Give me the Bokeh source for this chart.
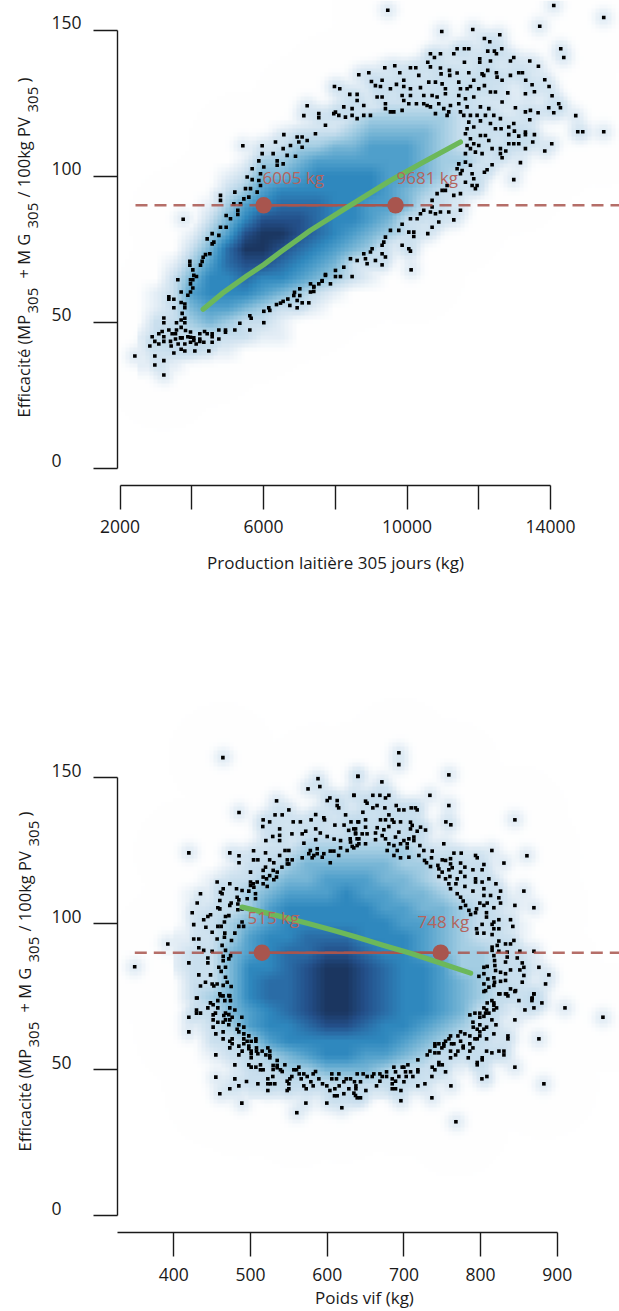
import numpy as np
from bokeh.plotting import figure
from bokeh.layouts import column
from bokeh.models import Range1d, FixedTicker, Label
from bokeh.embed import file_html
from bokeh.resources import INLINE

# ---------------------------------------------------------------- data, top chart
TICKS_X1 = [2000, 4000, 6000, 8000, 10000, 12000, 14000]
TICK_LABELS_X1 = {2000: "2000", 4000: "", 6000: "6000", 8000: "", 10000: "10000", 12000: "", 14000: "14000"}
TICKS_Y = [0, 50, 100, 150]
THRESHOLD = 90
MARKS_X1 = [6005, 9681]
MARK_LABELS1 = ["6005 kg", "9681 kg"]
FIT_X1 = [4318, 4848, 5545, 6009, 6474, 7309, 8424, 9538, 10375, 11490]
FIT_Y1 = [54.4, 59.8, 65.9, 69.7, 74.0, 81.4, 90, 98.5, 104.2, 111.7]
# density levels (0 = white, 9 = darkest)
DENS_X1 = list(range(2500, 15001, 500))
DENS_Y1 = [135, 130, 125, 120, 115, 110, 105, 100, 95, 90, 85, 80, 75, 70, 65, 60, 55, 50, 45, 40, 35, 30]
DENS1 = [
    "00000000000000000000000000",
    "00000000000000001111000000",
    "00000000000011222221100000",
    "00000000001123333322100000",
    "00000000122234444322100000",
    "00000001233445554322110000",
    "00000013345555554332100000",
    "00000124456666554321000000",
    "00000235666666543221000000",
    "00001356777665542210000000",
    "00002468887665422100000000",
    "00013589987654321000000000",
    "00024799876543100000000000",
    "00135788765421000000000000",
    "00246676654321000000000000",
    "01256665432100000000000000",
    "01245543221000000000000000",
    "02234322100000000000000000",
    "12222221100000000000000000",
    "11111100000000000000000000",
    "11100000000000000000000000",
    "00000000000000000000000000",
]
POINTS1 = [
(9464,156.8),(14091,158.4),(15484,154.3),(13700,151.3),(10969,149.5),(11833,150.2),(12586,148.4),(12158,147.1),(12307,146),(12641,143.6),(12251,142.8),(12437,142.8),(12493,141.9),(14286,143.6),(14370,140.6),(10653,141.9),(10932,141.9),(10765,140.6),(11304,141.9),(11397,143.6),(11601,143.6),(11722,143.6),(12028,140.2),(12028,139),(12326,139.4),(11601,139),(12976,140.6),(12883,139.4),(13422,139.4),(13663,137.6),(10579,139),(10653,137.4),(8656,134.7),(8935,135.4),(9381,137.1),(9659,137.8),(10096,137.1),(10245,137.1),(9799,135.4),(10328,134.5),(10932,137),(10950,135),(11183,136.2),(11192,134.5),(11397,135.3),(11722,135.4),(12093,135),(12251,136.2),(12493,135.4),(12883,134.5),(13115,135.4),(13218,135.4),(13309,132.8),(13840,133),(12511,133.9),(12651,132.8),(12140,134.5),(11861,132.8),(11443,132.2),(13487,131.3),(13960,130.7),(13552,128.9),(13301,128.2),(14044,127.5),(12809,128.5),(12465,128.8),(12158,131),(12000,129.9),(12326,128.8),(12651,125.4),(13022,123.4),(13301,122),(13440,122.5),(13654,121.7),(13951,123.4),(14091,121.7),(14230,124.8),(14277,123.4),(14704,120.7),(13422,119.3),(14760,115.2),(14899,115.2),(15484,115.2),(13552,114.2),(13301,115.1),(13301,114.2),(13115,113.7),(12976,118),(12837,116.8),(12837,114.2),(12994,115.4),(13505,111.7),(14035,111.1),(13840,108.6),(13301,109.4),(13115,111.1),(12976,111.1),(12837,111.1),(12753,108.6),(12604,107.7),(12651,106.3),(13162,104.6),(12976,98.8),(12372,103.9),(12233,102.2),(12158,101.3),
(7541,121.4),(7541,120),(7448,114.5),(7727,117.4),(7959,121.4),(7978,130.7),(8126,129.9),(8405,128),(8610,128),(8238,123.7),(8006,121.9),(8099,120.8),(8284,120.2),(8470,123.1),(8470,120.8),(8610,119.7),(8610,125.9),(8795,124.2),(8795,120.8),(8981,120.8),(9167,127.1),(9306,127.1),(9399,124.8),(9399,123.1),(9538,122),(9632,122),(9864,122.5),(9910,125.9),(10050,124.8),(10263,124.8),(10467,124.8),(10560,124.2),(10653,123.7),(10793,121.4),(10886,124.8),(11025,123.1),(11118,120.8),(11164,122),(11211,124.2),(11443,124.8),(11490,122),(11582,120.8),(10375,130.3),(10607,132.2),(10793,132.2),(10979,131.6),(11071,129.9),(10468,127.6),(10700,127.6),(10839,127.1),(11071,128.2),(9910,132.8),(9306,132.8),(9538,129.9),(9706,131.4),(9910,130.7),(10096,129.9),(9864,127.6),(10096,127.6),(9009,132.4),(9120,131),(9260,130.7),
(11490,129.9),(11675,129.9),(11768,130.7),(11443,127.6),(11629,126.5),(11861,127.1),(12047,123.7),(12279,123.1),(11675,123.7),(11768,120.8),(11954,120.8),(12186,120.8),(12419,120.8),(12604,119.7),(11722,118.5),(12047,118.9),(12326,118),(11675,116.2),(11861,116.8),(12465,116.2),(12623,116.2),(11629,114.5),(12047,113.9),(12186,113.9),(11768,112.8),(12279,112.2),(11675,110.5),(11861,111.1),(12000,110.5),(12372,109.4),(12604,109.4),(11629,107.7),(11768,109.4),(12093,107.7),(11907,108.2),
(11443,104.2),(11629,104.8),(11768,103.7),(11536,101.9),(11397,102.5),(11490,100.8),(11815,100.8),(11861,99.1),(11629,97.9),(11954,96.8),(11907,95.7),(11815,96.8),(11118,96.8),(11071,95.1),(10979,95.1),(11304,93.4),(11490,94),(10839,94),(10700,91.7),(10700,89.4),(10467,88.3),(10375,87.1),(10282,85.4),(10096,85.4),(10653,87.7),(10793,87.1),(10932,87.7),(11164,87.7),(11490,88.3),(11304,85),(10886,84.3),(10700,82.5),(10579,80.3),(9864,83.5),(9771,81.4),(10050,80.8),(10189,80.8),(10189,79.3),(9538,81.4),(9399,79.1),(9353,77.4),(9864,76.3),(10050,75.1),(10096,74.3),(9306,76.3),(9028,75.1),(8981,74),(8795,73.4),(9306,73.4),(9399,72.3),(8424,71.7),(8610,71.1),(8842,71.7),(9120,71.1),(8888,70),(9306,69.6),(8238,68.8),(8006,67.7),(10115,67.9),(8470,65.6),(8145,65.6),(8006,65.6),(7727,66),(7634,64),(7866,63.1),(7402,62),(7309,60.3),
(7217,124.1),(7124,120.7),(6567,114.2),(6938,113.4),(7077,113.4),(7217,112.2),(6334,111.7),(6752,110.5),(6984,111.7),(7077,109.9),(5963,110.4),(5424,110.4),(6548,109.4),(5963,107.7),(6269,107.7),(6659,107.1),(6892,106.8),(5870,105.2),(6381,105.2),(6381,103.7),(6548,104.2),(5684,102.5),(6009,103.1),(5916,100.8),(5545,99.7),(5870,98.5),(5684,98.8),(5916,96.8),(5638,95.7),(5498,95.7),(5823,94.5),(5201,94.5),(4801,93.4),(4801,91.7),(5591,92.8),(5452,92.2),(5359,90.5),(5173,90.5),(5284,88.3),(5284,86.9),(4959,86.5),(5080,85.4),(3761,85.2),(4801,82.5),(4959,82.5),(4569,80.3),(4755,79.7),(4430,78.5),(4569,76.8),(4616,77.4),
(4504,73.4),(4383,73.1),(4318,72.2),(3947,70.8),(3947,69.5),(4290,70.8),(4244,69.5),(4030,67.9),(4058,66),(4132,65.6),(3612,64.5),(3965,64.5),(4030,64.5),(3965,63.1),(4030,61.7),(3705,60.3),(3965,60.3),(3891,59.2),(3361,58.7),(3361,57.8),(3501,57.8),(3705,56.7),(3807,56.2),(3807,54.9),(3501,54.9),(3733,53),(3222,51.4),(3222,49.8),(3807,51.3),(3705,50.7),(3807,49.8),(3575,49.8),(3705,48.2),(3361,47.3),(3575,47.3),(3826,47.1),(3965,46.6),(3175,46.8),(3082,46),(2897,45),(3222,45),(3454,46),(3547,46),(3408,43.4),(3686,44.6),(3733,44.6),(3547,44.2),(3891,45),(3965,44.8),(4058,44.6),(4058,43.7),(4225,46),(4357,46.8),(4430,46),(4225,44.2),(3965,43.1),(4123,42.5),(4225,43.4),(4337,43.1),(4569,46),(4569,45),(4569,43.1),(4755,47.3),(4755,44.2),(4941,47.3),(4941,46.5),(5201,47.3),(5340,49.6),(5619,47.3),(5619,52.2),(5656,51.3),(6009,49.8),(6009,53.7),(6148,54.9),(6176,54),(6362,56),(6474,56.5),(6548,57.1),(6678,57.9),(6734,55.7),(6845,59.1),(6864,60.2),(6938,57.4),(6938,54.9),(7012,61.4),(7012,59.1),(7078,56.6),(7263,56.6),(7310,63.1),(7402,62.2),(7402,60.5),(7542,63.1),(7635,64.2),(7728,66.3),
(3082,42.5),(2832,41.8),(2971,43.4),(3222,43.4),(3426,41.8),(3621,42.5),(3807,42.5),(3705,40.7),(3807,40.1),(3501,39.4),(4086,40.1),(4476,40.1),(2414,38.4),(2971,38.4),(3222,36.8),(2971,35.3),(3222,31.9),
]

# ---------------------------------------------------------------- data, bottom chart
TICKS_X2 = [400, 500, 600, 700, 800, 900]
MARKS_X2 = [515, 748]
MARK_LABELS2 = ["515 kg", "748 kg"]
FIT_X2 = [489, 534.8, 574, 608.7, 639, 673.8, 708.7, 743.4, 787]
FIT_Y2 = [105.6, 102.7, 100.1, 97.6, 95.3, 92.5, 89.8, 86.8, 83]
DENS_X2 = list(range(400, 901, 25))
DENS_Y2 = [140, 135, 130, 125, 120, 115, 110, 105, 100, 95, 90, 85, 80, 75, 70, 65, 60, 55, 50, 45, 40]
DENS2 = [
    "000000001111100000000",
    "000000011222110000000",
    "000001122222210000000",
    "000012233333321000000",
    "000122344444332110000",
    "001223445554432210000",
    "011234555655443221000",
    "012235666665544321000",
    "012345666666554322100",
    "112356677766654322100",
    "122456778876654332100",
    "122466789987665332100",
    "022467789987665432110",
    "023467789987665432100",
    "012456789987665422100",
    "012356678876654321000",
    "002235666666543221000",
    "001223456655432210000",
    "000122334443221100000",
    "000122222222211000000",
    "000011111111100000000",
]
POINTS2 = [
(464,156.8),(588,149.6),(640,150.4),(575,146.1),(590.4,146.9),(635,143.9),(534,142),(550,138.9),(603.5,143),(600,142.1),(613,142.1),(613,140.4),(615,139.6),(624,137.2),(485,138),(516.5,135.5),(516,133.2),(525,134.8),(532,137.2),(541.3,137.2),(555.7,134.8),(565,134.8),(579,135.5),(595.6,136.2),(596.5,135.5),(610,133.7),(622,133.7),(631,134.8),(641,134.8),(585,137.3),(538,132.4),(529,129.8),(538,130.2),(538,128.4),(554,130.7),(567.4,130.7),(572,131.6),(585,132.4),(591,131),(600,129.8),(520,128.4),(569.6,127.5),(585,128.7),(609,128.9),(617.4,128.4),(630,129),(628,131.9),(637,132.4),(637,130.7),(641.3,129),(641.3,127.3),(632.6,126.4),(626,125),(617.4,125.9),(608.7,124.8),(615,123.3),(604,124.8),(595.6,123.9),(593.5,122.7),(587,125.6),(578,125),(576,123.9),(582.6,123.3),(587,123.9),(580.4,122.5),(567.4,122.5),(604,120.8),(554.4,121.8),(548,121.8),(545,125),(550,125),(538,123.3),(525,121.8),(504,121.8),(509.6,121.8),(519.6,124.2),(504,124.9),(473,124.2),(485,123.2),(485,120.8),(419.6,124.2),(548,120.4),(541,119.3),(550,120.4),(530.4,120.8),(519.6,119.3),(516.5,118.2),(529.6,118.2),(534.8,117.6),(533.9,115.9),(525,116.4),(516.5,115.9),(520.9,115.3),(500,117.6),(456.5,114.2),(473,113.6),(500,114.2),(503.5,113.6),(508.7,114.2),(516.5,113.6),(530.4,115),(521.8,112.7),(481.8,111.9),(464.4,111.9),(460.9,110.7),(463,110.2),(489,111.3),(497.8,111.1),(506.5,110.2),(500,113),(504.4,112.4),(434.8,110.2),(430.5,107),(482.6,109),(484.8,108.1),(495.7,108.5),(506.5,108.5),(460,107.9),(474.8,107),(483.5,106.7),(473,106.2),(457.4,105.4),(424,103.7),(460,105),(483.5,104.7),(489,105),(447.9,103),(444.4,102.4),(439,101.3),(467.4,102.4),(471.8,102.7),(426,99.6),(441.8,98.7),(457.4,99),(461.8,99),(466,100.5),(489,100.5),(484.8,99),(491,99),(479.6,96.7),(466.5,96.7),(450,97),(456.5,94.7),(466,95.3),(475.2,94.2),(426,94.7),(432.6,94.7),(392.2,93),(463,92.5),(432.6,91.7),(439,90.8),(450,90.5),(467.4,90.8),(349,85.2),(419.6,86.5),(444.4,88.2),(444.4,86.5),(464.4,88.8),(474,89),(471.8,87.9),(464.4,87.3),(458.7,85),(467.4,85),(461.8,83.6),(432.6,82.4),(447.9,82.4),(467.4,81.6),(441.3,79.9),(450,79.3),(456.5,79.3),(469.6,79.9),(434.8,78.6),(452.2,78.6),(464.4,78.8),(474.8,78.4),(460.9,75.3),(471.8,75.3),(430.5,74.5),
(693.4,158.5),(693.4,154.4),(758.6,150.9),(640,150.4),(671.3,148.5),(634.7,143.9),(659.5,143.9),(668.7,143.9),(680.4,143.9),(676,143),(733.9,143.9),(758.6,140.4),(650,141.9),(652,141.2),(659.5,139.6),(665,140.4),(675.2,139.6),(690,140.4),(693.4,138.9),(700,138.9),(709.5,139.6),(715,139.6),(717.3,138.9),(646.5,138.1),(680.4,137.2),(844.7,135.5),(754.7,134.8),(761.2,133.8),(640,134.8),(650,135.5),(669.5,135.5),(676,135.5),(684.7,135.5),(687,134.7),(695.6,134.8),(708.6,134.7),(710.8,133.6),(721.7,133),(728.2,132),(717.3,131.6),(708.6,132.4),(693.4,131.3),(680.4,133.2),(673.9,132.1),(665.2,132.8),(663,131),(650,133),(634.7,132.4),(645.6,130.7),(652,130.7),(637,131),(671.7,130.1),(689,129.6),(706.5,129),(713,129.6),(639,129),(663,128.7),(676,129),(700,128.4),(630.4,127.9),(639,126.7),(650,127.3),(680.4,127.3),(687,126.7),(695.6,127.3),(704.3,127.3),(713,128.4),(634.7,125.9),(678.2,125),(691.3,125),(704.3,125.9),(720.8,126.7),(726,125),(736.9,124.8),(752,127.3),(765.2,124.1),(774.7,124.1),(814.7,125),(687,123.3),(695.6,122.5),(706.5,122.7),(719.5,123.3),(736,122.5),(726.9,121.6),(729.5,120.8),(793.4,123.3),(795.6,122.5),(860.4,123.2),(750,121.8),(754.3,121.6),(760.8,122.2),(760.8,120.4),(773.9,120.7),(779.5,119.3),(734.7,119.5),(744.3,119.9),(745.6,118.7),(763,119.1),(758.6,118.4),(804.3,120.2),(830.4,120.7),(790,118.4),(802,118.4),(749.9,117.6),(773.9,117.6),(745.6,116.1),(754.3,115.3),(760,116.1),(779.5,116.1),(769.5,115.3),(793.4,115.3),(810.8,115.3),(758.6,113.6),(767.8,113.6),(793.4,114.2),(802,114.2),(820,113.6),(760.8,111.9),(779.5,112.7),(804.3,111.9),(790,111.1),(826,111.1),(856.4,111.1),(769.5,110.2),(773.9,109),(804.3,109.6),(813,109.6),(823.8,108.8),(777.3,107.7),(799,107),(808.6,107),(826,107),(780.4,106.2),(804.3,106.2),(844.7,106.2),(773.9,105.4),(817.3,105.4),(869.5,105.4),(784.7,104.5),(794.7,105),(807.7,103.7),(787,103.1),(793.4,103.7),(807.7,102.2),(823.8,101.3),(839,101.3),(817.3,100.5),(802,99.7),(815,99.7),(842,99),(794.7,98.2),(823.8,98.2),(817.3,98.2),(795.6,96.7),(804.3,96.7),(815,96.2),(843.4,94.2),(823.8,94),(832.5,93),(839,93),(815,91.9),(821.7,92.5),(815,90.8),(823.8,90.5),(834.7,90.2),(851.2,90.5),(869.5,90.5),(817.3,89),(834.7,88.5),(847.8,88.2),(818.2,87.3),(832.5,86.8),(854.3,86.5),(808.6,85.3),(818.6,85.6),(804.3,85),(876,85),(839,84.1),(851.2,84.1),(856.4,85),(819.5,83.9),(826,83.3),(889,82.4),(797.8,81.9),(804.3,82.8),(832.5,82.8),(856.4,82.2),(817.3,81.4),(809.5,81),(818.2,79.9),(826,80.2),(832.5,80.5),(854.3,79.9),(804.3,79.3),(817.3,78.8),(884.7,79.3),(810.8,78.2),(806.5,77),(839,77.6),(845.6,77),(823.8,75.9),(832.5,75.9),(869.5,75.9),(867.3,74.5),
(429.6,74.5),(460,75.9),(464.3,75.2),(473,75.2),(457.4,73.6),(466.5,73.6),(473.9,73.6),(447.8,72.8),(451.3,72.2),(444.4,71.1),(457.4,71.1),(473,71.1),(479.6,70.4),(429.6,70.4),(429.6,69.3),(434.8,69.3),(419.6,67.9),(454.3,69.3),(451.3,68.7),(467.4,69.3),(471.7,68.8),(465.2,68.5),(476.1,67.9),(488.7,67.9),(451.3,67),(467.4,67),(473,67),(457.4,66.2),(464.3,66.2),(471.7,65.3),(451.3,64.5),(484.8,65.3),(491.3,64.5),(482.6,63.8),(419.6,62.9),(454.8,62.2),(464.3,62.9),(484.8,62.9),(491.3,62.2),(497.8,61.5),(491.3,60.5),(464.3,60.5),(476.1,60.5),(473,59.7),(495.6,59.7),(500.9,59.7),(507,60.5),(507,59.7),(476.1,58.8),(491.3,58.8),(484.8,58),(497.8,58),(473,57.4),(497.8,57.1),(507.8,57.4),(522.6,57.4),(489.1,56.3),(500.9,56.3),(507.8,56.3),(515.2,56.3),(525.2,56.3),(454.8,55),(484.8,55),(500.9,55.4),(500.9,54),(509.6,55.4),(520,55),(525.2,54.8),(525.2,54),(534.8,53.1),(534.8,51.4),(479.6,51.6),(497.8,51.6),(500.9,50.8),(507,50.8),(513,51.6),(529.5,51.4),(529.5,50),(544.8,51.6),(513,49.9),(516.5,49.9),(534.8,50.6),(539.1,49.9),(541.3,49.3),(556.5,49.9),(560,49.9),(563,50.8),(563.5,48.5),(569.5,48.5),(584.8,49.3),(581.7,48.5),(606,48.5),(615.2,48.5),(639.1,48.5),(646.9,48.5),(652.1,47.6),(454.8,47.4),(479.6,46.8),(529.1,47.6),(522.6,46.8),(494.8,45.9),(509.6,45.1),(522.6,45.1),(526.1,45.1),(531.7,45.1),(484.8,44.4),(547.8,46),(551.3,46.8),(553.9,47.6),(550,45.1),(566.1,46.8),(573.9,47.6),(589.1,46.8),(578.7,45.8),(569.5,44.4),(572.6,43.4),(581.7,44.4),(593.9,45.1),(599.5,44.4),(606,46.8),(612.1,46.8),(621.7,45.8),(624.8,46.8),(630.4,46.8),(635.6,45.8),(643.4,45.8),(615.6,44.4),(637.4,44.4),(637.4,43.4),(628.2,43.4),(603.5,42.8),(610,43.4),(650.4,42.8),(550,43.4),(473,43.4),(547.8,42.8),(522.6,42.8),(634.8,41.9),(621.7,41.7),(609.5,41),(613,41),(636.9,41.1),(639.1,40.3),(643.4,40.3),(460,41.7),(488.7,38.5),(572.2,38.5),(599.5,38.5),(619.1,36.9),(560.4,35.2),
(804.3,76.7),(825.2,75.9),(833.9,75.9),(835.6,75.2),(844.7,76.7),(869.5,75.9),(866.9,74.3),(866.9,73.6),(849.9,73.6),(879.9,72.8),(808.6,72.8),(814.7,73.6),(817.3,72.8),(817.3,72),(869.5,71.1),(910,71.1),(857.8,70.4),(804.3,71.1),(807.8,70.4),(820.8,71.1),(817.3,70.4),(792.6,69.3),(799,69.3),(786,68.7),(806.5,69.3),(810.8,69.3),(804.3,68.2),(799,67.9),(959.5,67.9),(844.7,67),(814.7,67),(790,66.2),(820,65.3),(799,65.3),(790.4,64.5),(795.6,63.8),(807.8,64.5),(804.3,63.8),(799,62.9),(773.9,62.9),(817.3,62.2),(779.5,62.2),(799,61.5),(786,61.5),(770.4,61.5),(760.8,61.5),(758.7,60.5),(773.9,59.7),(792.6,60.5),(795.6,60.5),(807.8,60.5),(835.6,61.5),(835.6,60.5),(876,60.5),(754.3,59.7),(740.4,58.8),(745.6,58.8),(752.1,58.8),(762.1,58.8),(765.2,58.8),(786,58.8),(740.4,58),(752.1,58),(749.5,57.4),(777.3,58),(777.3,57.4),(790,57.4),(733.9,56.3),(745.6,55.7),(740.4,55.7),(730.4,55),(760.8,56.3),(770.4,56.3),(786,56.3),(807.8,56.3),(814.7,55.7),(823.9,56.3),(830.4,56.3),(830.4,55),(767.4,55),(760.8,54),(783.9,54),(802.1,54),(802.1,53.3),(718.2,53.3),(745.6,52.4),(745.6,51.6),(750,51.6),(795.6,52.4),(795.6,51.6),(705.2,51.6),(686.9,50.8),(697.8,50.8),(700,50.8),(844.7,50.8),(736.9,50.8),(740.4,49.9),(718.2,49.9),(718.2,49.2),(708.7,49.2),(702.1,49.2),(689.1,49.2),(677.4,49.2),(754.3,49.2),(660.8,48.5),(668.7,48.5),(658.7,47.6),(671.7,47.6),(693.4,47.6),(677.4,47.6),(703,47.6),(711.7,47.6),(736.5,47.6),(801.7,46.8),(808.2,47.6),(684.8,46.8),(668.7,46),(689.1,46),(700,45.8),(684.8,45.1),(727.4,45.1),(882.5,45.1),(664.3,44.4),(718.2,44.4),(761.3,44.4),(684.8,43.4),(689.1,43.4),(696.1,42.8),(736.5,40.3),(696.1,39.3),(767.8,32.1),
]

X_TITLE1 = "Production laitière 305 jours (kg)"
X_TITLE2 = "Poids vif (kg)"
# rotated title, split where the subscripts fall
Y_PIECES = ["Efficacité (MP", "305", "+ M G", "305", "/ 100kg PV", "305", ")"]

# ---------------------------------------------------------------- styles
FONT = "Open Sans"
INK = "#1a1a1a"
RED = "#a8554e"
RED_TEXT = "#b4645d"
GREEN = "#6cb85a"
PALETTE = ["#ffffff", "#e4eef6", "#c9dfee", "#a3cde3", "#78b6d6",
           "#4f9fcb", "#2f88be", "#2a6ca6", "#24508a", "#1b3660"]


class Page:
    """Maps page pixels of one panel to its data values (the frame fills the figure)."""
    def __init__(self, top, height, x_px, x_val, px_per_x, y0_px, px_per_y):
        self.top, self.height = top, height
        self.x = lambda px: x_val + (px - x_px) / px_per_x
        self.y = lambda py: (y0_px - py) / px_per_y
        self.px_x, self.px_y = px_per_x, px_per_y


def density_image(table, xs, ys, points, x0, x1, y0, y1, px_x, px_y):
    """Colour a 4 px raster: levels from the table, plus a faint halo round each dot."""
    nx = int(round((x1 - x0) * px_x / 4))
    ny = int(round((y1 - y0) * px_y / 4))
    cx = x0 + (np.arange(nx) + 0.5) * (x1 - x0) / nx
    cy = y0 + (np.arange(ny) + 0.5) * (y1 - y0) / ny
    raw = np.array([[int(c) for c in row] for row in table], float)
    order = np.argsort(ys)
    ya = np.array(ys, float)[order]
    raw = raw[order]
    by_x = np.array([np.interp(cx, xs, r, left=0, right=0) for r in raw])
    lev = np.array([np.interp(cy, ya, by_x[:, j], left=0, right=0) for j in range(nx)]).T
    X, Y = np.meshgrid(cx, cy)
    halo = np.zeros_like(lev)
    for (a, b) in points:
        d2 = ((X - a) * px_x) ** 2 + ((Y - b) * px_y) ** 2
        halo += np.exp(-d2 / (2 * 6.5 ** 2))
    halo = 2.2 * (1 - np.exp(-0.7 * halo))
    lev = np.maximum(lev, halo)
    rgb = np.array([[int(c[i:i + 2], 16) for i in (1, 3, 5)] for c in PALETTE], float)
    steps = np.arange(len(PALETTE))
    chan = [np.interp(lev, steps, rgb[:, k]).astype(np.uint32) for k in range(3)]
    return (255 << 24) | (chan[2] << 16) | (chan[1] << 8) | chan[0]


def panel(g, axis_y_px, x_ticks, labels, x_bounds, axis_title, standoff):
    p = figure(width=619, height=g.height,
               x_range=Range1d(g.x(0), g.x(619)),
               y_range=Range1d(g.y(g.top + g.height), g.y(g.top)),
               output_backend="svg", toolbar_location=None,
               min_border_left=0, min_border_right=0, min_border_top=0, min_border_bottom=0)
    p.outline_line_color = None
    p.grid.visible = False
    p.background_fill_color = "white"
    ax = p.xaxis[0]
    ax.fixed_location = g.y(axis_y_px)
    ax.ticker = FixedTicker(ticks=x_ticks)
    ax.major_label_overrides = labels
    ax.bounds = x_bounds
    ax.minor_tick_line_color = None
    ax.major_tick_in = 0
    ax.major_tick_out = 24
    ax.major_tick_line_width = 1.4
    ax.major_tick_line_color = INK
    ax.axis_line_width = 1.4
    ax.axis_line_color = INK
    ax.major_label_text_font = FONT
    ax.major_label_text_font_size = "17.5px"
    ax.major_label_text_color = INK
    ax.major_label_standoff = 11
    if axis_title:
        ax.axis_label = axis_title
        ax.axis_label_text_font = FONT
        ax.axis_label_text_font_size = "17px"
        ax.axis_label_text_font_style = "normal"
        ax.axis_label_text_color = INK
        ax.axis_label_standoff = standoff
    ay = p.yaxis[0]
    ay.fixed_location = g.x(117)
    ay.ticker = FixedTicker(ticks=TICKS_Y)
    ay.major_label_overrides = {t: "" for t in TICKS_Y}
    ay.bounds = (0, 150)
    ay.minor_tick_line_color = None
    ay.major_tick_in = 0
    ay.major_tick_out = 24
    ay.major_tick_line_width = 1.4
    ay.major_tick_line_color = INK
    ay.axis_line_width = 1.4
    ay.axis_line_color = INK
    return p


def draw(p, g, table, xs, ys, points, marks, mark_labels, label_lefts, label_bases,
         fit_x, fit_y, dash_from, shift, base_x):
    x0, x1 = g.x(117), g.x(619)
    y0, y1 = g.y(g.top + g.height), g.y(g.top)
    img = density_image(table, xs, ys, points, x0, x1, y0, y1, g.px_x, g.px_y)
    p.image_rgba(image=[img], x=x0, y=y0, dw=x1 - x0, dh=y1 - y0)
    px, py = zip(*points)
    p.scatter(list(px), list(py), marker="square", size=3.6, color="black", line_width=0)
    p.line([dash_from, x1], [THRESHOLD, THRESHOLD], line_color=RED, line_width=2.4,
           line_dash="12 7", line_alpha=0.85)
    p.line(marks, [THRESHOLD, THRESHOLD], line_color=RED, line_width=2.6)
    p.scatter(marks, [THRESHOLD, THRESHOLD], marker="circle", size=16.5, color=RED, line_width=0)
    p.line(fit_x, fit_y, line_color=GREEN, line_width=5.2, line_cap="round", line_join="round")

    for txt, left, base in zip(mark_labels, label_lefts, label_bases):
        p.add_layout(Label(x=g.x(left), y=g.y(base), text=txt,
                           text_font=FONT, text_font_size="17px", text_color=RED_TEXT,
                           text_baseline="alphabetic", text_align="left"))
    # y tick labels, left aligned and sitting above their ticks
    for t in TICKS_Y:
        p.add_layout(Label(x=g.x(51), y=t, y_offset=7.5, text=str(t), text_font=FONT,
                           text_font_size="17.5px", text_color=INK, text_align="left",
                           text_baseline="middle"))
    # rotated y title with subscripts
    starts = [417, 313, 278, 228, 197, 112, 82]
    for txt, s in zip(Y_PIECES, starts):
        sub = txt == "305"
        p.add_layout(Label(x=g.x(base_x + (9 if sub else 0)), y=g.y(s + shift),
                           text=txt, angle=np.pi / 2, text_font=FONT,
                           text_font_size="15px" if sub else "16.5px", text_color=INK,
                           text_align="left", text_baseline="alphabetic"))


# ---------------------------------------------------------------- top chart
G1 = Page(0, 590, 119.5, 2000, 0.035875, 467.6, 2.92)
p1 = panel(G1, 484.5, TICKS_X1, TICK_LABELS_X1, (2000, 14000), X_TITLE1, 14)
draw(p1, G1, DENS1, DENS_X1, DENS_Y1, POINTS1, MARKS_X1, MARK_LABELS1,
     [262, 396], [177, 177], FIT_X1, FIT_Y1, G1.x(135), 0, 23)

# ---------------------------------------------------------------- bottom chart
G2 = Page(590, 721, 173.3, 400, 0.767, 1215, 2.92)
p2 = panel(G2, 1232, TICKS_X2, {}, (G2.x(116.5), 900), None, 0)
draw(p2, G2, DENS2, DENS_X2, DENS_Y2, POINTS2, MARKS_X2, MARK_LABELS2,
     [247, 417], [917, 921], FIT_X2, FIT_Y2, G2.x(134.3), 734, 24)
p2.add_layout(Label(x=G2.x(364), y=G2.y(1297), text=X_TITLE2, text_font=FONT,
                    text_font_size="17px", text_color=INK, text_align="center",
                    text_baseline="alphabetic"))

layout = column(p1, p2, spacing=0)
open("out.html", "w").write(file_html(layout, INLINE))
